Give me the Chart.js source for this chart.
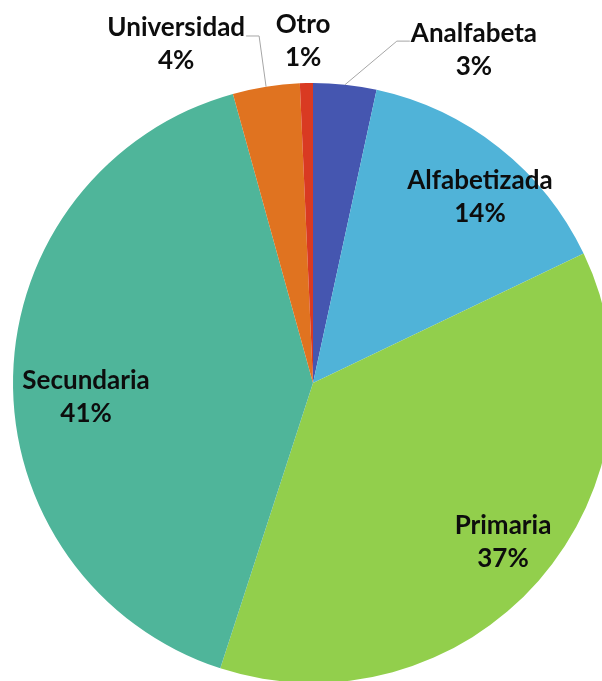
<!DOCTYPE html>
<html>
<head>
<meta charset="utf-8">
<script src="https://cdn.jsdelivr.net/npm/chart.js@4/dist/chart.umd.min.js"></script>
<style>
  html, body { margin: 0; padding: 0; background: #ffffff; overflow: hidden; width: 602px; height: 681px; }
  #wrap { position: absolute; left: 0; top: 0; width: 626px; height: 766px; }
</style>
</head>
<body>
<div id="wrap"><canvas id="c" width="626" height="766"></canvas></div>
<script>
// ---- data ----
const categories = ['Analfabeta', 'Alfabetizada', 'Primaria', 'Secundaria', 'Universidad', 'Otro'];
const values = [3.4, 14.5, 37.1, 40.7, 3.6, 0.7];
const percentLabels = ['3%', '14%', '37%', '41%', '4%', '1%'];

// ---- styling ----
const sliceColors = ['#4556B0', '#50B3D8', '#92CF4C', '#4FB59A', '#E07320', '#D93A22'];
const labelAngleShift = [19.65, 3.65, -1.2, -4.8, -13.0, -0.4];  // degrees from slice middle
const labelRadius = [1.234, 0.832, 0.827, 0.758, 1.217, 1.140];  // fraction of pie radius
const leaderSide = ['left', null, null, null, 'right', null];     // which side of label the leader attaches
const FONT = 'bold 26px Lato, "Open Sans", sans-serif';
const LINE_GAP = 33;

const labelPlugin = {
  id: 'sliceLabels',
  afterDatasetsDraw(chart) {
    const ctx = chart.ctx;
    const meta = chart.getDatasetMeta(0);
    ctx.save();
    ctx.font = FONT;
    ctx.textAlign = 'center';
    ctx.textBaseline = 'middle';
    meta.data.forEach((arc, i) => {
      const p = arc.getProps(['x', 'y', 'startAngle', 'endAngle', 'outerRadius'], true);
      const mid = (p.startAngle + p.endAngle) / 2;
      const a = mid + labelAngleShift[i] * Math.PI / 180;
      const r = p.outerRadius * labelRadius[i];
      const cx = p.x + Math.cos(a) * r;
      const cy = p.y + Math.sin(a) * r;
      const y1 = cy - LINE_GAP / 2;
      const y2 = cy + LINE_GAP / 2;
      if (leaderSide[i]) {
        const w = ctx.measureText(categories[i]).width;
        const ex0 = p.x + Math.cos(mid) * p.outerRadius;
        const ey0 = p.y + Math.sin(mid) * p.outerRadius;
        const attachX = leaderSide[i] === 'left' ? cx - w / 2 - 1 : cx + w / 2 + 1;
        const elbowX = leaderSide[i] === 'left' ? attachX - 13 : attachX + 13;
        const elbowY = y1 + 8;
        ctx.beginPath();
        ctx.strokeStyle = '#A6A6A6';
        ctx.lineWidth = 1;
        ctx.moveTo(ex0, ey0);
        ctx.lineTo(elbowX, elbowY);
        ctx.lineTo(attachX, elbowY);
        ctx.stroke();
      }
      ctx.fillStyle = '#0D0D0D';
      ctx.fillText(categories[i], cx, y1);
      ctx.fillText(percentLabels[i], cx, y2);
    });
    ctx.restore();
  }
};

new Chart(document.getElementById('c'), {
  type: 'pie',
  data: {
    labels: categories,
    datasets: [{
      data: values,
      backgroundColor: sliceColors,
      borderWidth: 0,
      hoverOffset: 0
    }]
  },
  options: {
    responsive: false,
    animation: false,
    events: [],
    layout: { padding: 13 },
    plugins: {
      legend: { display: false },
      tooltip: { enabled: false }
    }
  },
  plugins: [labelPlugin]
});
</script>
</body>
</html>
